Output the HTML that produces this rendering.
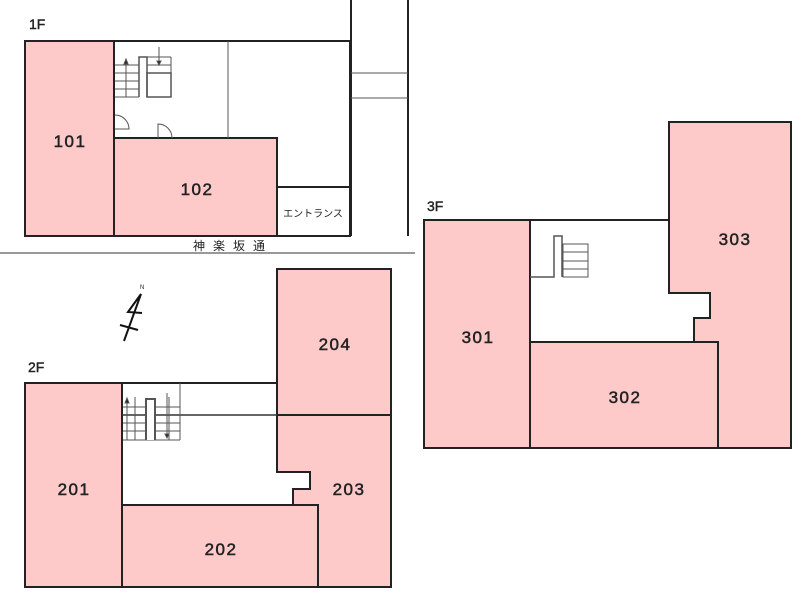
<!DOCTYPE html>
<html><head><meta charset="utf-8"><style>
html,body{margin:0;padding:0;background:#fff;}
svg{display:block;}
text{font-family:"Liberation Sans","Noto Sans CJK JP",sans-serif;fill:#222;}
</style></head><body>
<svg width="800" height="604" viewBox="0 0 800 604" xmlns="http://www.w3.org/2000/svg">
<g stroke="#222" stroke-width="2" fill="#fdc9c9">
<rect x="25" y="41" width="89" height="195"/>
<rect x="114" y="138" width="163" height="98"/>
<rect x="277" y="187" width="73" height="49" fill="#fff"/>
<polyline points="114,41 350,41 350,187" fill="none"/>
<line x1="351" y1="0" x2="351" y2="236"/>
<line x1="408" y1="0" x2="408" y2="236"/>
<rect x="25" y="383" width="97" height="204"/>
<rect x="277" y="269" width="114" height="146"/>
<polygon points="277,415 391,415 391,587 318,587 318,505 293,505 293,489 310,489 310,472 277,472"/>
<rect x="122" y="505" width="196" height="82"/>
<line x1="122" y1="383" x2="277" y2="383"/>
<rect x="424" y="220" width="106" height="228"/>
<polygon points="669,122 791,122 791,448 718,448 718,342 694,342 694,318 710,318 710,293 669,293"/>
<rect x="530" y="342" width="188" height="106"/>
<line x1="530" y1="220" x2="669" y2="220"/>
</g>
<g stroke="#555" stroke-width="1" fill="none">
<line x1="228" y1="41" x2="228" y2="138"/>
<line x1="351" y1="73" x2="408" y2="73"/>
<line x1="351" y1="98" x2="408" y2="98"/>
<line x1="0" y1="253" x2="415" y2="253" stroke="#999" stroke-width="2"/>
<line x1="115" y1="65" x2="139" y2="65"/><line x1="115" y1="73" x2="139" y2="73"/><line x1="115" y1="81" x2="139" y2="81"/><line x1="115" y1="89" x2="139" y2="89"/><line x1="115" y1="97" x2="139" y2="97"/>
<polyline points="139,97 139,57 147,57 147,97" stroke-width="1.5"/>
<rect x="147" y="73" width="24" height="24" stroke-width="1.5"/>
<line x1="147" y1="65" x2="171" y2="65"/><line x1="147" y1="57" x2="171" y2="57"/><line x1="171" y1="57" x2="171" y2="73"/>
<line x1="126" y1="62" x2="126" y2="97"/><polygon points="124,64 126,59 128,64" fill="#222"/>
<line x1="159" y1="47" x2="159" y2="62"/><polygon points="157,61 159,65 161,61" fill="#222"/>
<path d="M115,115 A14,14 0 0 1 129,129 L115,129"/>
<path d="M158,138 L158,124 A14,14 0 0 1 172,138"/>
<line x1="122" y1="415" x2="277" y2="415" stroke="#333" stroke-width="1.5"/>
<line x1="180" y1="383" x2="180" y2="440"/>
<line x1="123" y1="407" x2="180" y2="407"/><line x1="123" y1="423" x2="180" y2="423"/><line x1="123" y1="431" x2="180" y2="431"/><line x1="123" y1="440" x2="180" y2="440"/>
<line x1="135" y1="397" x2="135" y2="440"/><line x1="169" y1="397" x2="169" y2="440"/>
<polyline points="146,440 146,399 155,399 155,440" stroke-width="2" fill="#fff"/>
<line x1="127" y1="401" x2="127" y2="440"/><polygon points="125,403 127,398 129,403" fill="#222"/>
<line x1="167" y1="393" x2="167" y2="436"/><polygon points="165,434 167,438 169,434" fill="#222"/>
<polyline points="530,277 554,277 554,236 562,236 562,277" stroke-width="1.5"/>
<rect x="563" y="244" width="25" height="33"/>
<line x1="563" y1="252" x2="588" y2="252"/><line x1="563" y1="261" x2="588" y2="261"/><line x1="563" y1="269" x2="588" y2="269"/>
<g stroke="#111" stroke-width="2">
<line x1="124" y1="341" x2="141" y2="294"/>
<path d="M141,294 L128,312 L142,313"/>
<line x1="120" y1="325" x2="138" y2="330"/>
</g>
</g>
<text x="140" y="289" font-size="6">N</text>
<g font-size="14" stroke="#222" stroke-width="0.4">
<text x="29" y="29">1F</text>
<text x="28" y="372">2F</text>
<text x="427" y="211">3F</text>
</g>
<g font-size="17" text-anchor="middle" letter-spacing="1.5" stroke="#222" stroke-width="0.5">
<text x="70" y="147">101</text>
<text x="197" y="195">102</text>
<text x="74" y="495">201</text>
<text x="221" y="555">202</text>
<text x="349" y="495">203</text>
<text x="335" y="350">204</text>
<text x="478" y="343">301</text>
<text x="625" y="403">302</text>
<text x="735" y="245">303</text>
</g>
<text x="313" y="217" font-size="10" text-anchor="middle" font-family="'Noto Sans CJK JP',sans-serif">エントランス</text>
<text x="233" y="250" font-size="12" text-anchor="middle" letter-spacing="8" font-family="'Noto Sans CJK JP',sans-serif">神楽坂通</text>
</svg>
</body></html>
